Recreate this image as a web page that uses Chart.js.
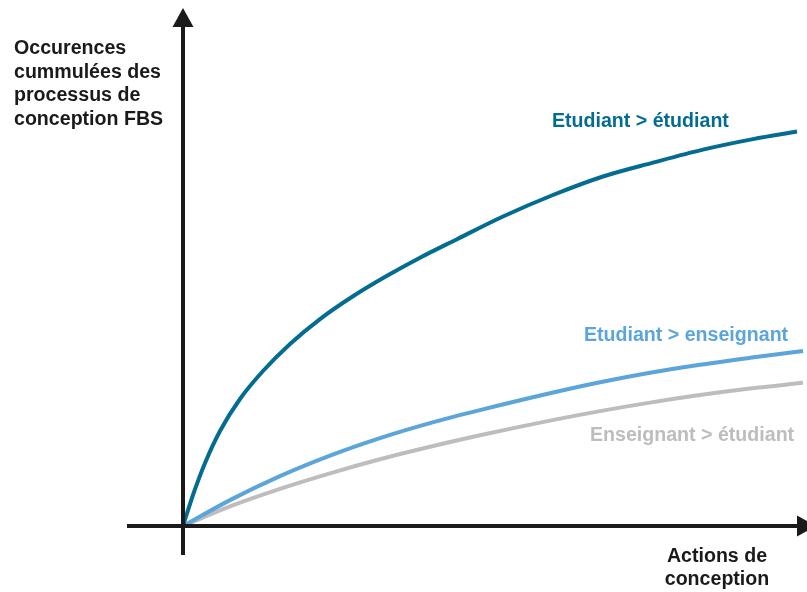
<!DOCTYPE html>
<html>
<head>
<meta charset="utf-8">
<script src="https://cdn.jsdelivr.net/npm/chart.js@4"></script>
<style>
html,body{margin:0;padding:0;background:#fff;}
#wrap{width:807px;height:592px;}
</style>
</head>
<body>
<div id="wrap"><canvas id="c" width="807" height="592"></canvas></div>
<script>
// Data (arbitrary units: actions de conception 0..100, occurrences 0..100)
const etuEtuX = [0, 1.6, 3.53, 5.93, 9.13, 12.82, 17.15, 21.96, 27.24, 32.69, 37.98, 43.91, 51.28, 59.29, 67.31, 75.32, 83.33, 91.35, 98.4];
const etuEtuY = [0, 5.98, 12.16, 18.34, 24.52, 29.92, 35.14, 39.95, 44.35, 48.3, 51.8, 55.37, 59.75, 63.9, 67.47, 70.15, 72.66, 74.69, 76.14];
const etuEnsX = [0, 7.53, 15.54, 23.56, 31.57, 39.58, 47.6, 58.81, 66.83, 74.84, 82.85, 90.87, 99.36];
const etuEnsY = [0, 5.0, 9.63, 13.59, 16.97, 19.86, 22.37, 25.62, 27.74, 29.58, 31.12, 32.47, 33.8];
const ensEtuX = [0, 7.53, 15.54, 23.56, 31.57, 39.58, 47.6, 58.81, 66.83, 74.84, 82.85, 90.87, 99.36];
const ensEtuY = [0, 3.8, 7.18, 10.17, 12.88, 15.29, 17.51, 20.35, 22.18, 23.82, 25.27, 26.53, 27.64];
const seriesNames = ['Etudiant > étudiant', 'Etudiant > enseignant', 'Enseignant > étudiant'];
const yTitleLines = ['Occurences', 'cummulées des', 'processus de', 'conception FBS'];
const xTitleLines = ['Actions de', 'conception'];

const zip = (xs, ys) => xs.map((x, i) => ({x: x, y: ys[i]}));

const COL_DARK = '#046c91';
const COL_LIGHT = '#5ba5db';
const COL_GRAY = '#bdbdbd';
const FONT = 'bold 19.6px "Liberation Sans", Arial, sans-serif';

const decor = {
  id: 'decor',
  afterDatasetsDraw(chart) {
    const ctx = chart.ctx;
    const xs = chart.scales.x, ys = chart.scales.y;
    const ox = xs.getPixelForValue(0), oy = ys.getPixelForValue(0);
    ctx.save();
    ctx.fillStyle = '#1a1a1a';
    ctx.strokeStyle = '#1a1a1a';
    ctx.lineWidth = 4;
    // y axis
    ctx.beginPath();
    ctx.moveTo(ox, oy + 29);
    ctx.lineTo(ox, 24);
    ctx.stroke();
    ctx.beginPath();
    ctx.moveTo(ox, 8);
    ctx.lineTo(ox - 10.5, 27);
    ctx.lineTo(ox + 10.5, 27);
    ctx.closePath();
    ctx.fill();
    // x axis
    ctx.beginPath();
    ctx.moveTo(ox - 56, oy);
    ctx.lineTo(800, oy);
    ctx.stroke();
    ctx.beginPath();
    ctx.moveTo(816, oy);
    ctx.lineTo(797, oy - 10.5);
    ctx.lineTo(797, oy + 10.5);
    ctx.closePath();
    ctx.fill();

    // axis titles
    ctx.font = FONT;
    ctx.textBaseline = 'middle';
    ctx.textAlign = 'left';
    ctx.fillStyle = '#1a1a1a';
    yTitleLines.forEach((t, i) => ctx.fillText(t, 14, 49 + i * 23.5));
    ctx.textAlign = 'center';
    xTitleLines.forEach((t, i) => ctx.fillText(t, 717, 557 + i * 23));

    // series labels
    ctx.textAlign = 'left';
    ctx.fillStyle = COL_DARK;
    ctx.fillText(seriesNames[0], 552, 122);
    ctx.fillStyle = COL_LIGHT;
    ctx.fillText(seriesNames[1], 584, 336);
    ctx.fillStyle = COL_GRAY;
    ctx.fillText(seriesNames[2], 590, 436);
    ctx.restore();
  }
};

new Chart(document.getElementById('c'), {
  type: 'line',
  data: {
    datasets: [
      {label: seriesNames[0], data: zip(etuEtuX, etuEtuY), borderColor: COL_DARK},
      {label: seriesNames[1], data: zip(etuEnsX, etuEnsY), borderColor: COL_LIGHT},
      {label: seriesNames[2], data: zip(ensEtuX, ensEtuY), borderColor: COL_GRAY}
    ].map(d => Object.assign(d, {
      borderWidth: 4, pointRadius: 0, fill: false,
      cubicInterpolationMode: 'monotone'
    }))
  },
  options: {
    responsive: false,
    animation: false,
    devicePixelRatio: 1,
    layout: {padding: {left: 183, right: 0, top: 8, bottom: 66}},
    plugins: {legend: {display: false}, tooltip: {enabled: false}},
    scales: {
      x: {type: 'linear', min: 0, max: 100, display: false},
      y: {type: 'linear', min: 0, max: 100, display: false}
    }
  },
  plugins: [decor]
});
</script>
</body>
</html>
